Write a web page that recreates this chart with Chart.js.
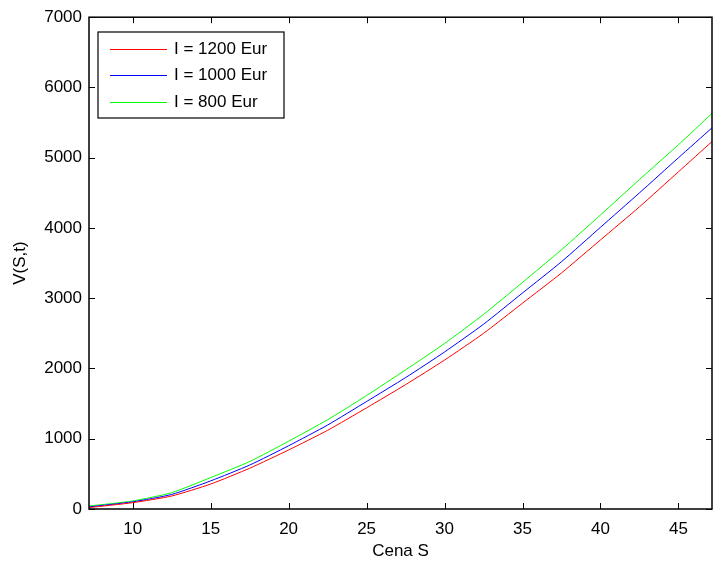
<!DOCTYPE html>
<html>
<head>
<meta charset="utf-8">
<script src="https://cdn.jsdelivr.net/npm/chart.js@4"></script>
<style>
  html, body { margin: 0; padding: 0; background: #fff; }
  #wrap { width: 717px; height: 574px; }
</style>
</head>
<body>
<div id="wrap"><canvas id="grafico" width="717" height="574"></canvas></div>
<script>
// cena S
const cenaS = [7.2, 10, 12.5, 15, 17.5, 20, 22.5, 25, 27.5, 30, 32.5, 35, 37.5, 40, 42.5, 45, 47.15]
// V(S,t) pre rozne I
const vI1200 = [20, 90, 185, 355, 580, 840, 1120, 1440, 1770, 2120, 2500, 2930, 3360, 3830, 4301, 4800, 5230]
const vI1000 = [30, 102, 207, 400, 625, 900, 1195, 1530, 1870, 2235, 2630, 3075, 3520, 4010, 4500, 5000, 5425]
const vI800 = [42, 114, 232, 447, 675, 965, 1270, 1615, 1980, 2355, 2770, 3225, 3690, 4185, 4690, 5185, 5630]

const popisky = ['I = 1200 Eur', 'I = 1000 Eur', 'I = 800 Eur']
const farby = ['#ff0000', '#0000ff', '#00ff00']
const xTicky = [10, 15, 20, 25, 30, 35, 40, 45]
const yTicky = [0, 1000, 2000, 3000, 4000, 5000, 6000, 7000]

const FONT = 'Arial, "Liberation Sans", Helvetica, sans-serif'

const body = (xs, ys) => xs.map((x, i) => ({ x: x, y: ys[i] }))

// ramik + vnutorne ticky ako v matlabe
const ramikPlugin = {
	id: 'ramik',
	afterDraw(chart) {
		const ctx = chart.ctx
		const a = chart.chartArea
		const sx = chart.scales.x
		const sy = chart.scales.y
		const dl = 6
		ctx.save()
		ctx.strokeStyle = '#000'
		ctx.lineWidth = 1
		ctx.beginPath()
		xTicky.forEach(v => {
			const px = Math.round(sx.getPixelForValue(v)) + 0.5
			ctx.moveTo(px, a.bottom); ctx.lineTo(px, a.bottom - dl)
			ctx.moveTo(px, a.top); ctx.lineTo(px, a.top + dl)
		})
		yTicky.forEach(v => {
			const py = Math.round(sy.getPixelForValue(v)) + 0.5
			ctx.moveTo(a.left, py); ctx.lineTo(a.left + dl, py)
			ctx.moveTo(a.right, py); ctx.lineTo(a.right - dl, py)
		})
		ctx.stroke()
		ctx.lineWidth = 1.5
		ctx.strokeRect(a.left, a.top, a.right - a.left, a.bottom - a.top)

		// legenda
		const lx = 98, ly = 32, lw = 186, lh = 86
		ctx.fillStyle = '#fff'
		ctx.fillRect(lx, ly, lw, lh)
		ctx.strokeStyle = '#000'
		ctx.lineWidth = 1.2
		ctx.strokeRect(lx, ly, lw, lh)
		ctx.font = '17px ' + FONT
		ctx.textBaseline = 'middle'
		popisky.forEach((txt, i) => {
			const y = Math.round(ly + 16.5 + i * 26.7) + 0.5
			ctx.beginPath()
			ctx.strokeStyle = farby[i]
			ctx.lineWidth = 1
			ctx.moveTo(110, y)
			ctx.lineTo(167, y)
			ctx.stroke()
			ctx.fillStyle = '#000'
			ctx.fillText(txt, 174, y)
		})
		ctx.restore()
	}
}

const chartRef = new Chart(document.getElementById('grafico').getContext('2d'), {
	type: 'line',
	data: {
		datasets: [vI1200, vI1000, vI800].map((vals, i) => ({
			label: popisky[i],
			data: body(cenaS, vals),
			borderColor: farby[i],
			borderWidth: 1,
			pointRadius: 0,
			tension: 0.2,
			fill: false
		}))
	},
	options: {
		responsive: false,
		animation: false,
		layout: { padding: { left: 0, top: 17, right: 5, bottom: 0 } },
		plugins: { legend: { display: false }, tooltip: { enabled: false } },
		scales: {
			x: {
				type: 'linear',
				min: 7.2,
				max: 47.15,
				afterBuildTicks: s => { s.ticks = xTicky.map(v => ({ value: v })) },
				afterFit: s => { s.height = 65 },
				grid: { display: false, drawTicks: false },
				border: { display: false },
				ticks: { color: '#000', padding: 10, font: { family: FONT, size: 17 }, callback: v => String(v) },
				title: { display: true, text: 'Cena S', color: '#000', padding: { top: 0, bottom: 12 }, font: { family: FONT, size: 17 } }
			},
			y: {
				type: 'linear',
				min: 0,
				max: 7000,
				afterBuildTicks: s => { s.ticks = yTicky.map(v => ({ value: v })) },
				afterFit: s => { s.width = 89 },
				grid: { display: false, drawTicks: false },
				border: { display: false },
				ticks: { color: '#000', padding: 7, font: { family: FONT, size: 17 }, callback: v => String(v) },
				title: { display: true, text: 'V(S,t)', color: '#000', padding: { top: 10, bottom: 0 }, font: { family: FONT, size: 17 } }
			}
		}
	},
	plugins: [ramikPlugin]
})
</script>
</body>
</html>
